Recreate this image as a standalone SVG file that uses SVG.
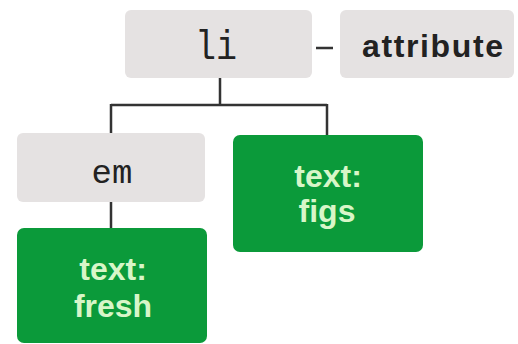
<svg xmlns="http://www.w3.org/2000/svg" width="518" height="344" viewBox="0 0 518 344">
<style>
.gray{fill:#e5e2e2;}
.green{fill:#0b9a3a;}
.mono{font-family:"Liberation Mono","DejaVu Sans Mono",monospace;font-size:34px;fill:#222;text-anchor:middle;}
.lbl{font-family:"Liberation Sans",Arial,sans-serif;font-weight:bold;font-size:32px;fill:#222;}
.gt{font-family:"Liberation Sans",Arial,sans-serif;font-weight:bold;font-size:32px;fill:#d8f6c8;text-anchor:middle;}
.conn{stroke:#333;stroke-width:2.5;fill:none;}
</style>
<rect width="518" height="344" fill="#ffffff"/>
<g id="connectors">
<path class="conn" d="M220,78 V105 M111,105 H327 M111,104 V133 M327,104 V135 M111,202 V228 M316,48 H333"/>
</g>
<g id="li">
<rect class="gray" x="125" y="10" width="187" height="68" rx="6"/>
<text class="mono" x="216" y="59" style="font-size:40px" textLength="42" lengthAdjust="spacingAndGlyphs">li</text>
</g>
<g id="attribute">
<rect class="gray" x="340" y="10" width="174" height="68" rx="6"/>
<text class="lbl" x="362" y="57" textLength="141">attribute</text>
</g>
<g id="em">
<rect class="gray" x="17" y="133" width="188" height="69" rx="6"/>
<text class="mono" x="112" y="183">em</text>
</g>
<g id="figs">
<rect class="green" x="233" y="135" width="190" height="117" rx="7"/>
<text class="gt" x="328" y="187">text:</text>
<text class="gt" x="327" y="222">figs</text>
</g>
<g id="fresh">
<rect class="green" x="17" y="228" width="190" height="115" rx="7"/>
<text class="gt" x="113" y="280">text:</text>
<text class="gt" x="113" y="317">fresh</text>
</g>
</svg>
